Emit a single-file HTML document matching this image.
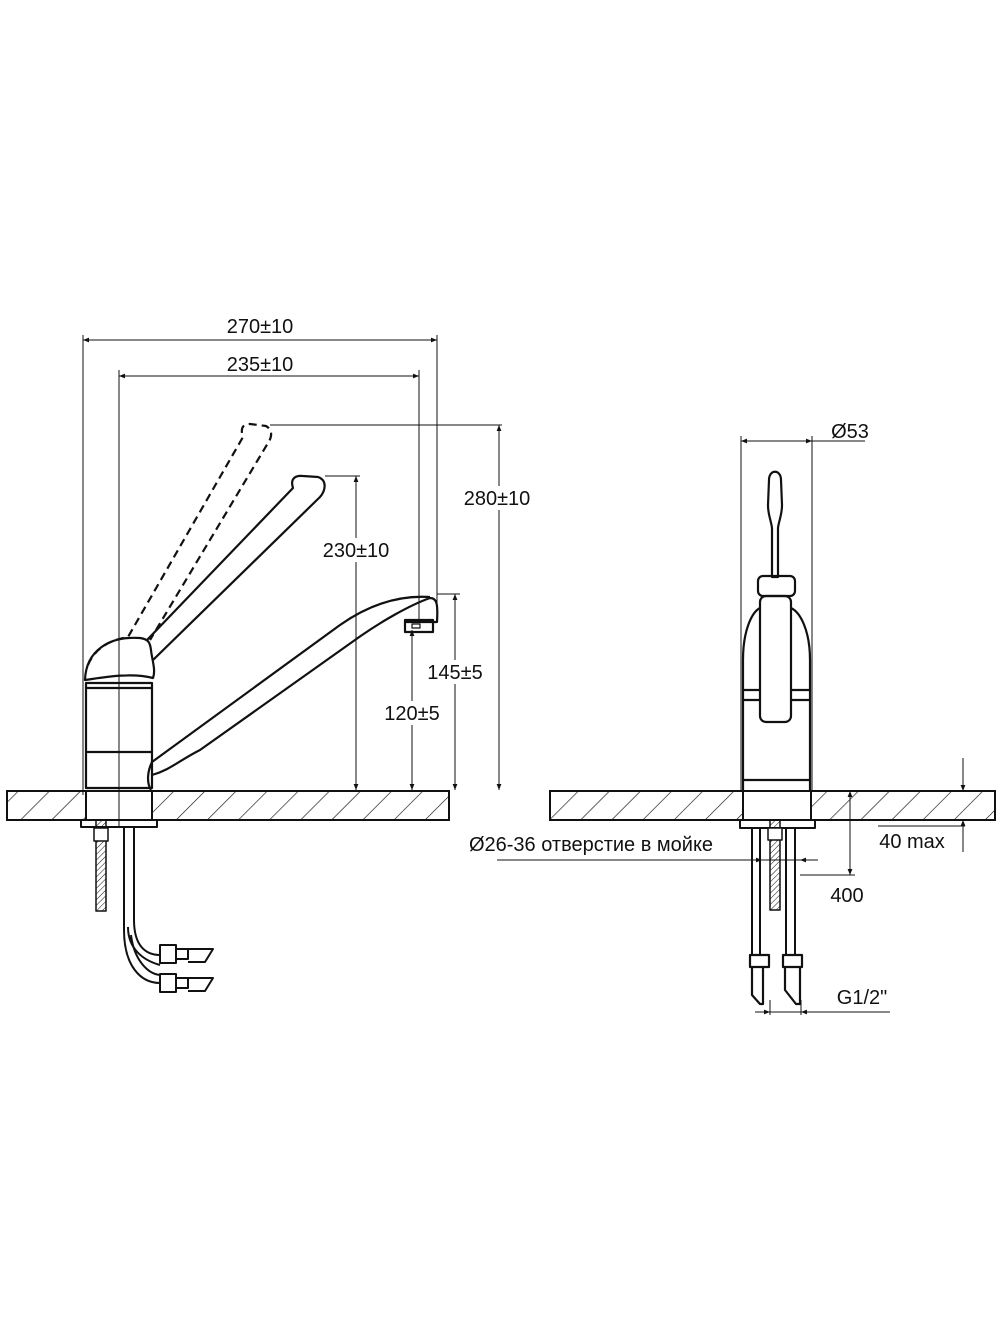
<!DOCTYPE html>
<html><head><meta charset="utf-8"><style>
html,body{margin:0;padding:0;background:#fff}
svg{display:block}
text{font-family:"Liberation Sans","DejaVu Sans",sans-serif;font-size:20px;fill:#111}
</style></head><body>
<svg width="1000" height="1333" viewBox="0 0 1000 1333" xmlns="http://www.w3.org/2000/svg">
<defs>
<pattern id="h" width="22" height="22" patternUnits="userSpaceOnUse" patternTransform="rotate(45)">
<line x1="0" y1="0" x2="0" y2="22" stroke="#111" stroke-width="1.3"/>
</pattern>
<pattern id="h2" width="4" height="4" patternUnits="userSpaceOnUse" patternTransform="rotate(45)">
<line x1="0" y1="0" x2="0" y2="4" stroke="#111" stroke-width="1"/>
</pattern>
<marker id="a" viewBox="0 0 10 10" refX="10" refY="5" markerWidth="12" markerHeight="6" orient="auto-start-reverse" markerUnits="userSpaceOnUse">
<path d="M0,1 L10,5 L0,9 z" fill="#111"/>
</marker>
</defs>
<g fill="none" stroke="#111">
<rect x="7" y="791" width="442" height="29" fill="url(#h)" stroke-width="2"/>
<rect x="86" y="791" width="66" height="29" fill="#fff" stroke-width="2"/>
<rect x="550" y="791" width="445" height="29" fill="url(#h)" stroke-width="2"/>
<rect x="743" y="791" width="68" height="29" fill="#fff" stroke-width="2"/>

<g stroke-width="1">
<line x1="83" y1="335" x2="83" y2="795"/>
<line x1="437" y1="335" x2="437" y2="605"/>
<line x1="119" y1="370" x2="119" y2="828"/>
<line x1="419" y1="370" x2="419" y2="622"/>
<line x1="83" y1="340" x2="437" y2="340" marker-start="url(#a)" marker-end="url(#a)"/>
<line x1="119" y1="376" x2="419" y2="376" marker-start="url(#a)" marker-end="url(#a)"/>
<line x1="270" y1="425" x2="502" y2="425"/>
<line x1="499" y1="425" x2="499" y2="790" marker-start="url(#a)" marker-end="url(#a)"/>
<line x1="325" y1="476" x2="360" y2="476"/>
<line x1="356" y1="476" x2="356" y2="790" marker-start="url(#a)" marker-end="url(#a)"/>
<line x1="437" y1="594" x2="460" y2="594"/>
<line x1="455" y1="594" x2="455" y2="790" marker-start="url(#a)" marker-end="url(#a)"/>
<line x1="412" y1="630" x2="412" y2="790" marker-start="url(#a)" marker-end="url(#a)"/>
</g>
</g>
<rect x="325" y="538" width="62" height="24" fill="#fff"/>
<rect x="466" y="486" width="64" height="24" fill="#fff"/>
<rect x="425" y="660" width="60" height="24" fill="#fff"/>
<rect x="382" y="701" width="60" height="24" fill="#fff"/>
<text x="260" y="333" text-anchor="middle">270±10</text>
<text x="260" y="371" text-anchor="middle">235±10</text>
<text x="497" y="505" text-anchor="middle">280±10</text>
<text x="356" y="557" text-anchor="middle">230±10</text>
<text x="455" y="679" text-anchor="middle">145±5</text>
<text x="412" y="720" text-anchor="middle">120±5</text>

<g fill="none" stroke="#111" stroke-width="2.2" stroke-linejoin="round">
<rect x="86" y="683" width="66" height="105"/>
<line x1="86" y1="752" x2="152" y2="752"/>
<line x1="86" y1="688" x2="152" y2="688"/>
<path d="M85,680 C86,650 110,636 140,638 C148,639 150,642 151,650 C152,660 156,670 153,678 C130,672 100,678 85,680 Z"/>
<path d="M147,640 L293,488 C290,479 295,475 303,476 L318,477 C327,480 326,490 320,497 L153,660"/>
<path d="M88,665 C95,648 110,640 128,637 L243,437 C240,428 243,424 250,424 L266,426 C273,430 272,437 268,443 L150,640" stroke-dasharray="8,5"/>
<path d="M152,775 C170,770 180,760 200,750 L355,640 C380,622 410,605 430,598 C437,598 438,604 437,622 L405,622 M151,790 C146,782 148,770 152,762 L340,625 C370,604 400,595 430,597"/>
<rect x="405" y="620" width="28" height="12"/>
<rect x="412" y="624" width="8" height="4" stroke-width="1.2"/>

<rect x="81" y="820" width="76" height="7" stroke-width="2"/>
<rect x="96" y="820" width="10" height="91" fill="url(#h2)" stroke-width="1.5"/>
<rect x="94" y="828" width="14" height="13" fill="#fff" stroke-width="1.5"/>
<path d="M124,827 L124,930 M134,827 L134,920" stroke-width="2"/>
<g stroke-width="2">
<rect x="160" y="945" width="16" height="18"/><rect x="176" y="949" width="12" height="10"/>
<path d="M188,949 L213,949 L205,962 L188,962"/>
<rect x="160" y="974" width="16" height="18"/><rect x="176" y="978" width="12" height="10"/>
<path d="M188,978 L213,978 L205,991 L188,991"/>
<path d="M124,930 C124,965 140,983 160,983 M134,920 C134,945 145,955 160,955 M128,927 C128,948 142,960 160,965 M131,935 C134,960 148,974 160,975"/>
</g>
</g>

<g fill="none" stroke="#111" stroke-width="1">
<line x1="741" y1="436" x2="741" y2="790"/>
<line x1="812" y1="436" x2="812" y2="790"/>
<line x1="741" y1="441" x2="812" y2="441" marker-start="url(#a)" marker-end="url(#a)"/>
<line x1="812" y1="441" x2="865" y2="441"/>
<line x1="963" y1="758" x2="963" y2="791" marker-end="url(#a)"/>
<line x1="963" y1="820" x2="963" y2="852" marker-start="url(#a)"/>
<line x1="878" y1="826" x2="965" y2="826"/>
<line x1="850" y1="791" x2="850" y2="875" marker-start="url(#a)" marker-end="url(#a)"/>
<line x1="800" y1="875" x2="855" y2="875"/>
<line x1="497" y1="860" x2="810" y2="860"/>
<line x1="745" y1="860" x2="762" y2="860" marker-end="url(#a)"/>
<line x1="818" y1="860" x2="800" y2="860" marker-end="url(#a)"/>
<line x1="755" y1="1012" x2="890" y2="1012"/>
<line x1="758" y1="1012" x2="770" y2="1012" marker-end="url(#a)"/>
<line x1="813" y1="1012" x2="801" y2="1012" marker-end="url(#a)"/>
<line x1="770" y1="1000" x2="770" y2="1015"/>
<line x1="801" y1="1000" x2="801" y2="1015"/>
</g>
<rect x="828" y="884" width="42" height="24" fill="#fff"/>
<text x="850" y="438" text-anchor="middle">Ø53</text>
<text x="912" y="848" text-anchor="middle">40 max</text>
<text x="847" y="902" text-anchor="middle">400</text>
<text x="862" y="1004" text-anchor="middle">G1/2"</text>
<text x="591" y="851" text-anchor="middle">Ø26-36 отверстие в мойке</text>

<g fill="none" stroke="#111" stroke-width="2.2" stroke-linejoin="round">
<path d="M769,480 C769,469 781,469 781,480 L782,505 C782,515 779,520 778,528 L778,577 L772,577 L772,528 C771,520 768,515 768,505 Z"/>
<rect x="758" y="576" width="37" height="20" rx="5"/>
<path d="M743,790 L743,660 C743,630 752,612 760,608 M810,790 L810,660 C810,630 800,612 791,608"/>
<rect x="760" y="596" width="31" height="126" rx="6"/>
<line x1="743" y1="690" x2="760" y2="690"/><line x1="791" y1="690" x2="810" y2="690"/>
<line x1="743" y1="700" x2="760" y2="700"/><line x1="791" y1="700" x2="810" y2="700"/>
<line x1="743" y1="780" x2="810" y2="780"/>
<rect x="740" y="820" width="75" height="8" stroke-width="2"/>
<rect x="770" y="820" width="10" height="90" fill="url(#h2)" stroke-width="1.5"/>
<rect x="768" y="828" width="14" height="12" fill="#fff" stroke-width="1.5"/>
<path d="M752,828 L752,955 M760,828 L760,955 M786,828 L786,955 M795,828 L795,955" stroke-width="2"/>
<rect x="750" y="955" width="19" height="12"/><rect x="783" y="955" width="19" height="12"/>
<path d="M752,967 L752,995 L760,1004 L763,1004 L763,967 M785,967 L785,990 L796,1004 L800,1004 L800,967"/>
</g>
</svg>
</body></html>
